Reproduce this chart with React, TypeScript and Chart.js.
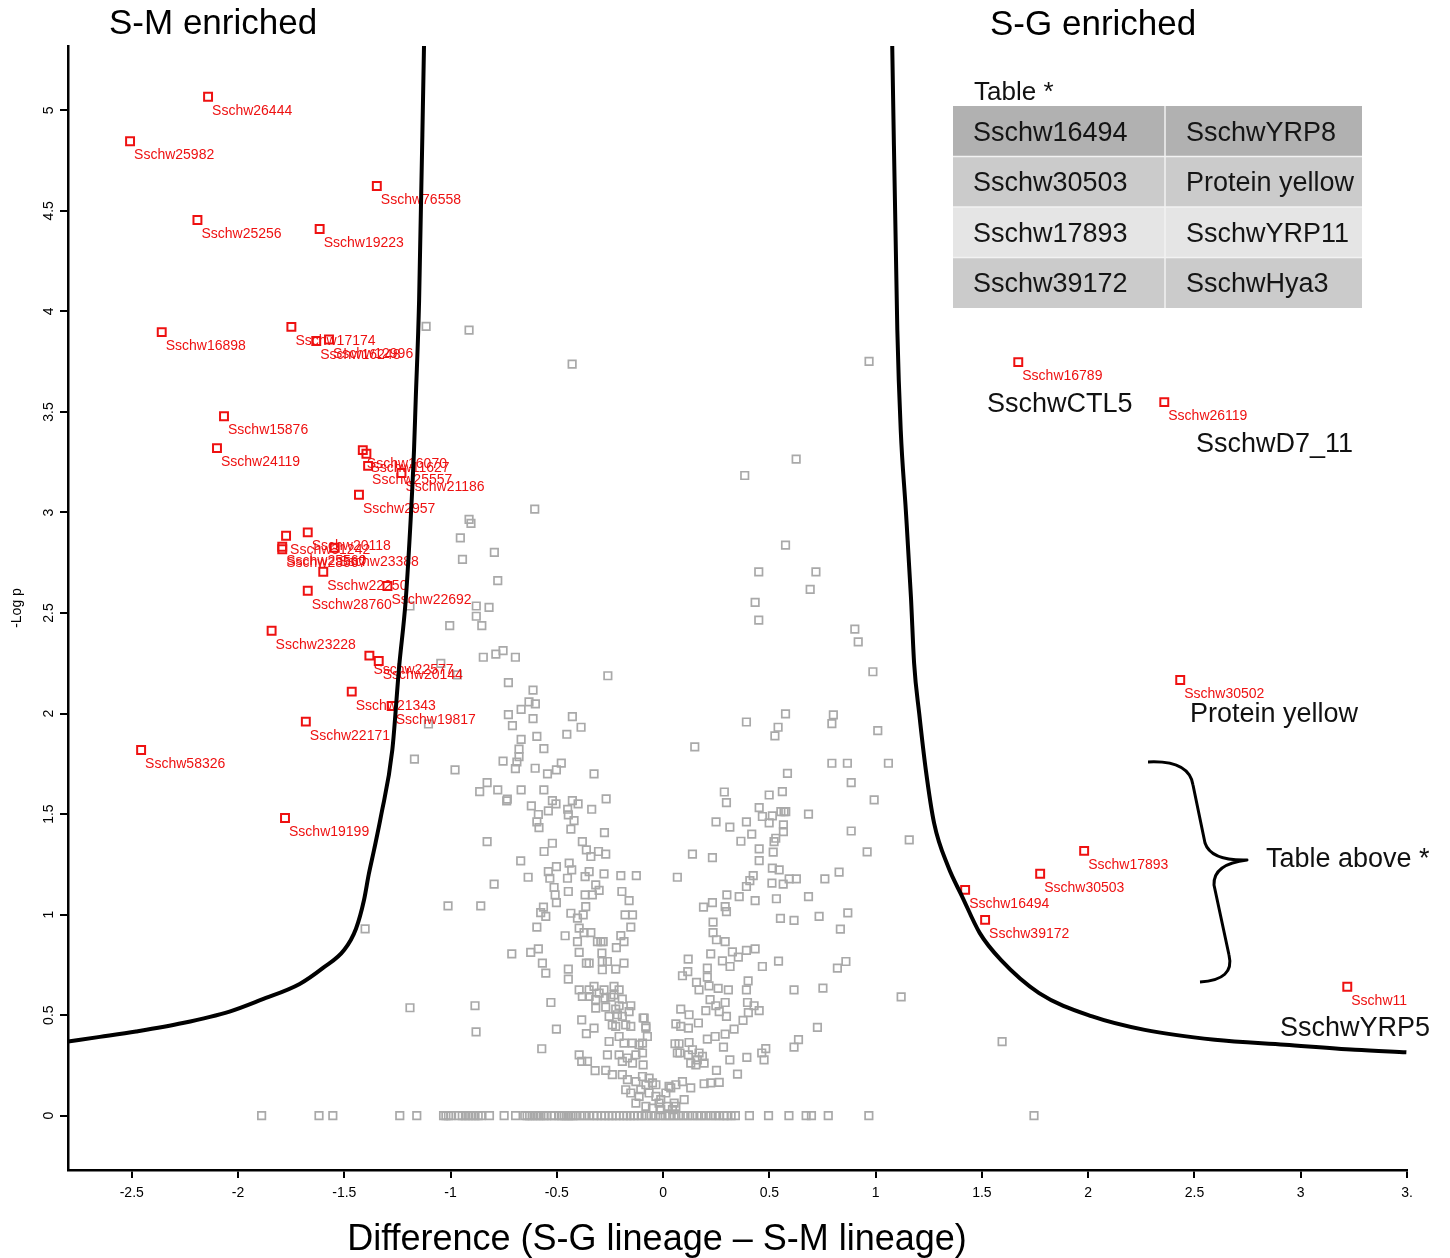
import React, { useEffect, useRef } from 'react';
import { Chart, registerables } from 'chart.js';

Chart.register(...registerables);

const FONT = '"Liberation Sans", Arial, Helvetica, sans-serif';
Chart.defaults.font.family = FONT;

// ---- non-significant proteins (grey squares) ----
const greyX = [
-1.115,-0.913,-0.428,0.969,0.384,0.626,-0.604,-0.913,-0.904,-0.954,
-0.794,-0.944,-0.778,-0.879,-0.819,-1.191,-0.879,-1.004,-0.853,-0.846,
-0.787,-0.753,-0.695,-1.046,-0.968,-0.260,-0.728,-0.612,-0.631,-0.601,
-0.668,-0.728,-0.612,-0.427,-0.386,-0.709,-1.104,-0.453,-0.594,-0.668,
-0.561,-0.678,-0.678,-0.688,0.149,-1.170,-0.753,-0.479,-0.502,-0.544,
-0.695,-0.602,-0.979,-0.325,-0.828,-0.863,-0.778,-0.668,-0.561,-0.733,
-0.736,-0.521,-0.504,-0.427,-0.400,-0.268,-0.620,-0.587,-0.540,-0.449,
-0.446,-0.336,-0.594,-0.584,-0.419,-0.434,-0.276,0.288,0.298,0.249,
-0.828,-0.521,-0.380,
-0.361,-0.340,-0.304,-0.270,-0.560,-0.670,-0.635,-0.540,-0.533,-0.502,
-0.450,-0.430,-0.442,-0.367,-0.348,-0.278,-0.199,-0.126,0.067,-0.795,
-0.513,-0.508,-0.502,-0.446,-0.367,-0.333,-0.317,-0.301,-0.194,-0.160,
-0.858,-1.012,-0.563,-0.576,-0.552,-0.434,-0.403,-0.364,-0.376,-0.179,
-0.144,-0.594,-0.461,-0.395,-0.372,-0.340,-0.199,-0.152,-0.712,-0.623,
-0.587,-0.568,-0.552,-0.403,-0.395,-0.309,-0.293,-0.282,-0.220,-0.184,
-0.361,-0.348,-0.288,-0.286,-0.262,-0.286,-0.223,-0.184,-0.446,-0.446,
-0.395,-0.380,-0.348,-0.325,-0.301,-0.278,-0.231,-0.207,-0.348,-0.317,
-0.273,-0.246,-0.231,-0.192,-0.152,-0.528,-0.317,-0.270,-0.223,-0.207,
-0.254,-0.215,-0.192,-0.160,-0.094,-0.502,-0.383,-0.325,-0.361,-0.239,
-0.223,-0.176,-0.152,-0.081,-0.074,-0.254,-0.207,-0.184,-0.144,-0.113,
-0.571,-0.395,-0.383,-0.356,-0.320,-0.262,-0.270,-0.207,-0.192,-0.168,
-0.144,-0.128,-0.097,-0.239,-0.192,-0.168,-0.128,-0.097,-0.066,-0.050,
-0.176,-0.152,-0.113,-0.066,-0.034,-0.011,0.013,0.036,0.060,-0.128,
-0.081,-0.050,-0.011,0.020,0.052,
0.585,0.499,0.561,0.452,0.467,0.514,0.499,0.554,0.569,0.577,
0.684,0.794,0.867,0.885,
0.314,0.392,0.417,0.366,0.566,0.566,0.530,0.522,0.452,0.518,
0.452,0.885,0.138,0.232,
0.424,0.408,0.392,0.514,0.546,0.512,0.565,0.593,0.627,0.761,
0.828,0.300,0.358,0.433,0.533,0.684,0.190,0.232,0.292,0.298,
0.552,0.616,0.734,0.869,0.834,0.235,0.235,0.251,0.292,0.224,
0.326,0.354,0.392,0.433,0.118,0.116,0.091,0.208,0.208,0.279,
0.315,0.467,0.543,0.820,0.860,0.157,0.169,0.216,0.259,0.307,
0.392,0.400,0.616,0.752,0.221,0.201,0.248,0.264,0.292,0.298,
0.397,0.401,0.428,0.452,0.376,0.083,0.122,0.166,0.060,0.083,
0.119,0.334,0.292,0.245,0.208,0.284,0.726,0.637,0.616,0.483,
0.464,0.475,-0.089,-0.081,-0.097,
-0.094,0.056,0.075,0.122,0.067,0.079,0.119,0.138,0.169,0.185,
0.161,0.193,0.154,0.130,0.314,0.394,0.350,0.251,0.193,0.224,
0.264,0.130,0.091,0.028,0.099,0.060,
-0.034,-0.081,-0.105,-0.019,0.044,
0.392,0.576,0.541,0.526,0.801,0.794,1.010,
1.060,
0.576,0.450,0.719,0.692,0.433,0.450,0.902,0.918,0.987,
1.158,0.960,0.993,1.120,1.595,-1.402,-1.191,-0.885,-0.880
];
const greyY = [
3.926,3.907,3.738,3.752,3.184,3.265,3.017,2.966,2.946,2.874,
2.802,2.767,2.661,2.535,2.528,2.535,2.484,2.437,2.437,2.280,
2.296,2.313,2.280,2.250,2.192,2.188,2.154,2.117,2.058,2.048,
2.021,1.995,1.975,1.985,1.932,1.940,1.948,1.897,1.887,1.872,
1.826,1.823,1.786,1.759,1.834,1.773,1.763,1.754,1.720,1.700,
1.726,1.728,1.720,1.700,1.657,1.612,1.620,1.620,1.620,1.574,
1.566,1.567,1.551,1.567,1.551,1.576,1.541,1.498,1.516,1.524,
1.496,1.524,1.461,1.433,1.468,1.425,1.408,1.610,1.557,1.461,
1.363,1.355,1.363,
1.322,1.289,1.314,1.301,1.314,1.267,1.186,1.214,1.181,1.239,
1.181,1.223,1.256,1.189,1.214,1.203,1.194,1.194,1.186,1.152,
1.135,1.098,1.060,1.115,1.098,1.098,1.148,1.121,1.115,1.070,
1.044,1.044,1.037,1.010,0.991,1.007,0.983,1.040,0.999,0.999,
0.999,0.938,0.895,0.933,0.911,0.911,0.896,0.938,0.805,0.812,
0.830,0.759,0.709,0.866,0.812,0.866,0.866,0.866,0.836,0.866,
0.759,0.759,0.809,0.767,0.767,0.726,0.729,0.759,0.729,0.679,
0.626,0.593,0.626,0.643,0.610,0.626,0.643,0.626,0.593,0.577,
0.585,0.590,0.601,0.580,0.547,0.563,0.535,0.540,0.530,0.547,
0.494,0.502,0.494,0.518,0.486,0.431,0.477,0.436,0.408,0.452,
0.444,0.452,0.444,0.444,0.394,0.369,0.394,0.361,0.361,0.353,
0.333,0.303,0.270,0.270,0.224,0.303,0.225,0.303,0.270,0.287,
0.262,0.303,0.312,0.204,0.204,0.179,0.170,0.195,0.187,0.163,
0.129,0.113,0.096,0.113,0.096,0.080,0.113,0.138,0.154,0.063,
0.046,0.038,0.030,0.046,0.063,
1.703,1.595,1.612,1.532,1.488,1.491,1.456,1.512,1.512,1.512,
1.500,1.753,1.753,1.657,
1.435,1.461,1.400,1.365,1.446,1.413,1.380,1.363,1.327,1.311,
1.269,1.416,1.301,1.284,
1.194,1.169,1.140,1.231,1.223,1.157,1.152,1.178,1.178,1.178,
1.211,1.098,1.090,1.070,1.079,1.090,1.037,1.060,1.040,1.015,
0.981,0.971,0.991,1.009,0.928,0.963,0.911,0.875,0.866,0.805,
0.815,0.789,0.822,0.830,0.779,0.717,0.696,0.734,0.689,0.770,
0.742,0.742,0.769,0.734,0.767,0.663,0.626,0.646,0.633,0.626,
0.626,0.671,0.626,0.635,0.577,0.523,0.547,0.518,0.563,0.494,
0.563,0.513,0.547,0.523,0.474,0.530,0.502,0.461,0.457,0.444,
0.436,0.431,0.406,0.394,0.381,0.341,0.439,0.378,0.341,0.334,
0.312,0.278,0.486,0.436,0.361,
0.253,0.358,0.358,0.364,0.312,0.312,0.303,0.328,0.312,0.295,
0.278,0.262,0.253,0.262,0.278,0.290,0.207,0.225,0.159,0.163,
0.166,0.138,0.170,0.146,0.080,0.046,
0.154,0.154,0.129,0.063,0.030,
1.958,1.998,1.932,1.889,1.993,1.950,1.915,
1.753,
2.838,2.705,2.705,2.618,2.553,2.465,2.420,2.357,2.208,
1.372,1.312,1.571,0.591,0.368,0.929,0.537,0.547,0.417
];
// proteins with -log p = 0 (bottom row)
const zeroRowX = [
-1.889,-1.619,-1.554,-1.239,-1.159,-1.033,-1.022,-1.010,-0.999,-0.960,
-0.945,-0.930,-0.915,-0.900,-0.885,-0.870,-0.856,-0.817,-0.748,-0.694,
-0.651,-0.640,-0.628,-0.615,-0.600,-0.588,-0.575,-0.560,-0.548,-0.527,
-0.511,-0.489,-0.478,-0.466,-0.456,-0.445,-0.435,-0.424,-0.413,-0.391,
-0.370,-0.348,-0.327,-0.310,-0.290,-0.273,-0.255,-0.240,-0.222,-0.205,
-0.186,-0.170,-0.154,-0.138,-0.120,-0.100,-0.078,-0.056,-0.035,-0.013,
0.010,0.030,0.052,0.073,0.095,0.116,0.138,0.160,0.180,0.202,
0.224,0.246,0.266,0.287,0.300,0.320,0.340,0.406,0.496,0.592,
0.673,0.698,0.777,0.968,1.745
];

// ---- significant proteins (red squares) ----
const redX = [-2.141,-2.508,-1.347,-2.191,-1.616,-2.359,-1.749,-1.632,-1.572,-2.066,-2.099,-1.413,-1.396,-1.388,-1.231,-1.431,-1.774,-1.672,-1.792,-1.792,-1.545,-1.599,-1.297,-1.672,-1.842,-1.382,-1.338,-1.465,-1.277,-1.681,-2.456,-1.779,1.671,2.358,2.433,1.981,1.774,1.421,1.515,3.219];
const redY = [5.068,4.846,4.624,4.455,4.410,3.897,3.923,3.853,3.860,3.479,3.320,3.310,3.292,3.232,3.196,3.088,2.884,2.901,2.830,2.817,2.825,2.705,2.634,2.611,2.412,2.288,2.261,2.109,2.038,1.960,1.819,1.481,3.748,3.549,2.167,1.317,1.203,1.123,0.974,0.641];
const redLabels = ['Sschw26444','Sschw25982','Sschw76558','Sschw25256','Sschw19223','Sschw16898','Sschw17174','Sschw16248','Sschw12996','Sschw15876','Sschw24119','Sschw16070','Sschw11627','Sschw25557','Sschw21186','Sschw2957','Sschw31242','Sschw20118','Sschw25560','Sschw28567','Sschw23388','Sschw22250','Sschw22692','Sschw28760','Sschw23228','Sschw22577','Sschw20144','Sschw21343','Sschw19817','Sschw22171','Sschw58326','Sschw19199','Sschw16789','Sschw26119','Sschw30502','Sschw17893','Sschw30503','Sschw16494','Sschw39172','Sschw11'];

// ---- significance threshold curves ----
const leftCurveX = [-2.80,-2.65,-2.48,-2.26,-2.04,-1.89,-1.71,-1.60,-1.50,-1.445,-1.407,-1.385,-1.36,-1.328,-1.274,-1.242,-1.211,-1.187,-1.172,-1.164,-1.148,-1.125];
const leftCurveY = [0.369,0.392,0.419,0.461,0.518,0.577,0.655,0.735,0.825,0.930,1.074,1.200,1.322,1.487,1.820,2.233,2.565,2.980,3.310,3.560,4.056,5.320];
const rightCurveX = [1.078,1.102,1.118,1.142,1.166,1.181,1.205,1.236,1.275,1.341,1.407,1.490,1.589,1.769,2.019,2.266,2.596,2.926,3.256,3.497];
const rightCurveY = [5.32,3.906,3.41,3.01,2.58,2.25,2.0,1.72,1.455,1.239,1.090,0.908,0.775,0.610,0.494,0.427,0.378,0.353,0.328,0.315];

// ---- table and callouts ----
const tableIds = ['Sschw16494','Sschw30503','Sschw17893','Sschw39172'];
const tableNames = ['SschwYRP8','Protein yellow','SschwYRP11','SschwHya3'];
const tableFills = ['#b1b1b1','#cbcbcb','#e5e5e5','#cbcbcb'];

const RED = '#ee1111';
const GREY = '#a9a9a9';
const RED_INDEX = 2;

const xTickLabel = (v: number) => (v === 3.5 ? '3.' : String(v));

const annotationPlugin = {
  id: 'volcanoAnnotations',
  afterDatasetDraw(chart: any, args: any) {
    if (args.index !== RED_INDEX) return;
    const { ctx } = chart;
    const xs = chart.scales.x;
    const ys = chart.scales.y;
    ctx.save();
    ctx.font = `14px ${FONT}`;
    ctx.fillStyle = RED;
    ctx.textAlign = 'left';
    ctx.textBaseline = 'alphabetic';
    redLabels.forEach((lab, i) => {
      const px = xs.getPixelForValue(redX[i]);
      const py = ys.getPixelForValue(redY[i]);
      ctx.fillText(lab, px + 4, py + 18);
    });
    ctx.restore();
  },
  afterDraw(chart: any) {
    const { ctx } = chart;
    ctx.save();
    ctx.textAlign = 'left';
    ctx.textBaseline = 'alphabetic';
    ctx.fillStyle = '#000';
    ctx.font = `35px ${FONT}`;
    ctx.fillText('S-M enriched', 109, 34);
    ctx.fillText('S-G enriched', 990, 35);

    // table
    ctx.font = `26px ${FONT}`;
    ctx.fillStyle = '#111';
    ctx.fillText('Table *', 974, 100);
    const top = 106, rowH = 50.5, left = 953, right = 1362, split = 1165;
    tableFills.forEach((c, i) => {
      ctx.fillStyle = c;
      ctx.fillRect(left, top + i * rowH, right - left, rowH);
    });
    ctx.strokeStyle = '#f2f2f2';
    ctx.lineWidth = 1.5;
    ctx.beginPath();
    ctx.moveTo(split, top); ctx.lineTo(split, top + 4 * rowH);
    for (let i = 1; i < 4; i++) { ctx.moveTo(left, top + i * rowH); ctx.lineTo(right, top + i * rowH); }
    ctx.stroke();
    ctx.fillStyle = '#151515';
    ctx.font = `27px ${FONT}`;
    tableIds.forEach((t, i) => {
      const by = top + i * rowH + rowH / 2 + 9.7;
      ctx.fillText(t, 973, by);
      ctx.fillText(tableNames[i], 1186, by);
    });

    // callout labels
    ctx.fillStyle = '#111';
    ctx.font = `27px ${FONT}`;
    ctx.fillText('SschwCTL5', 987, 412);
    ctx.fillText('SschwD7_11', 1196, 452);
    ctx.fillText('Protein yellow', 1190, 722);
    ctx.fillText('Table above *', 1266, 867);
    ctx.fillText('SschwYRP5', 1280, 1036);

    // brace
    ctx.strokeStyle = '#000';
    ctx.lineWidth = 3;
    ctx.lineJoin = 'round';
    ctx.beginPath();
    ctx.moveTo(1148, 762);
    ctx.quadraticCurveTo(1189, 760, 1193, 785);
    ctx.lineTo(1205, 843);
    ctx.quadraticCurveTo(1211, 861, 1247, 860);
    ctx.quadraticCurveTo(1213, 864, 1214, 885);
    ctx.lineTo(1229, 955);
    ctx.quadraticCurveTo(1235, 980, 1200, 982);
    ctx.stroke();

    // x axis title
    ctx.fillStyle = '#000';
    ctx.font = `36px ${FONT}`;
    ctx.textAlign = 'center';
    ctx.fillText('Difference (S-G lineage \u2013 S-M lineage)', 657, 1250);
    ctx.restore();
  },
};

export default function App() {
  const ref = useRef<HTMLCanvasElement>(null);

  useEffect(() => {
    const canvas = ref.current;
    if (!canvas) return;
    const greyData = greyX.map((x, i) => ({ x, y: greyY[i] })).concat(zeroRowX.map((x) => ({ x, y: 0 })));
    const redData = redX.map((x, i) => ({ x, y: redY[i] }));
    const leftData = leftCurveX.map((x, i) => ({ x, y: leftCurveY[i] }));
    const rightData = rightCurveX.map((x, i) => ({ x, y: rightCurveY[i] }));

    const axisCommon = {
      type: 'linear' as const,
      border: { display: true, color: '#000', width: 2.5 },
      grid: { display: true, drawOnChartArea: false, drawTicks: true, tickLength: 8, color: '#000', lineWidth: 2 },
    };

    const chart = new Chart(canvas, {
      type: 'scatter',
      data: {
        datasets: [
          {
            label: 'left threshold',
            data: leftData,
            showLine: true,
            pointRadius: 0,
            borderColor: '#000',
            borderWidth: 4,
            cubicInterpolationMode: 'monotone',
            fill: false,
            order: 0,
          } as any,
          {
            label: 'right threshold',
            data: rightData,
            showLine: true,
            pointRadius: 0,
            borderColor: '#000',
            borderWidth: 4,
            cubicInterpolationMode: 'monotone',
            fill: false,
            order: 0,
          } as any,
          {
            label: 'significant',
            data: redData,
            pointStyle: 'rect',
            pointRadius: 5.6,
            pointBorderWidth: 2,
            pointBorderColor: RED,
            pointBackgroundColor: 'rgba(0,0,0,0)',
            order: 1,
          } as any,
          {
            label: 'other',
            data: greyData,
            pointStyle: 'rect',
            pointRadius: 5.3,
            pointBorderWidth: 1.7,
            pointBorderColor: GREY,
            pointBackgroundColor: 'rgba(0,0,0,0)',
            order: 2,
          } as any,
        ],
      },
      options: {
        responsive: false,
        animation: false,
        devicePixelRatio: 1,
        events: [],
        layout: { padding: { top: 46, right: 43, left: 0, bottom: 0 } },
        plugins: { legend: { display: false }, tooltip: { enabled: false }, title: { display: false } },
        scales: {
          x: {
            ...axisCommon,
            min: -2.8,
            max: 3.5,
            afterFit: (s: any) => { s.height = 88; },
            ticks: {
              stepSize: 0.5,
              includeBounds: false,
              autoSkip: false,
              maxRotation: 0,
              minRotation: 0,
              color: '#000',
              padding: 7,
              font: { size: 14, family: FONT },
              callback: (v: any) => xTickLabel(Number(v)),
            },
          },
          y: {
            ...axisCommon,
            min: -0.27,
            max: 5.32,
            afterFit: (s: any) => { s.width = 68; },
            ticks: {
              stepSize: 0.5,
              includeBounds: false,
              autoSkip: false,
              minRotation: 90,
              maxRotation: 90,
              crossAlign: 'center',
              padding: 1,
              color: '#000',
              font: { size: 14, family: FONT },
              callback: (v: any) => String(v),
            },
            title: {
              display: true,
              text: '-Log p',
              color: '#000',
              font: { size: 14, family: FONT },
              padding: { top: 9, bottom: 0 },
            },
          },
        },
      } as any,
      plugins: [annotationPlugin],
    });
    return () => chart.destroy();
  }, []);

  return (
    <div style={{ position: 'fixed', left: 0, top: 0, width: 1450, height: 1258, background: '#fff' }}>
      <canvas ref={ref} width={1450} height={1258} style={{ width: 1450, height: 1258, display: 'block' }} />
    </div>
  );
}
